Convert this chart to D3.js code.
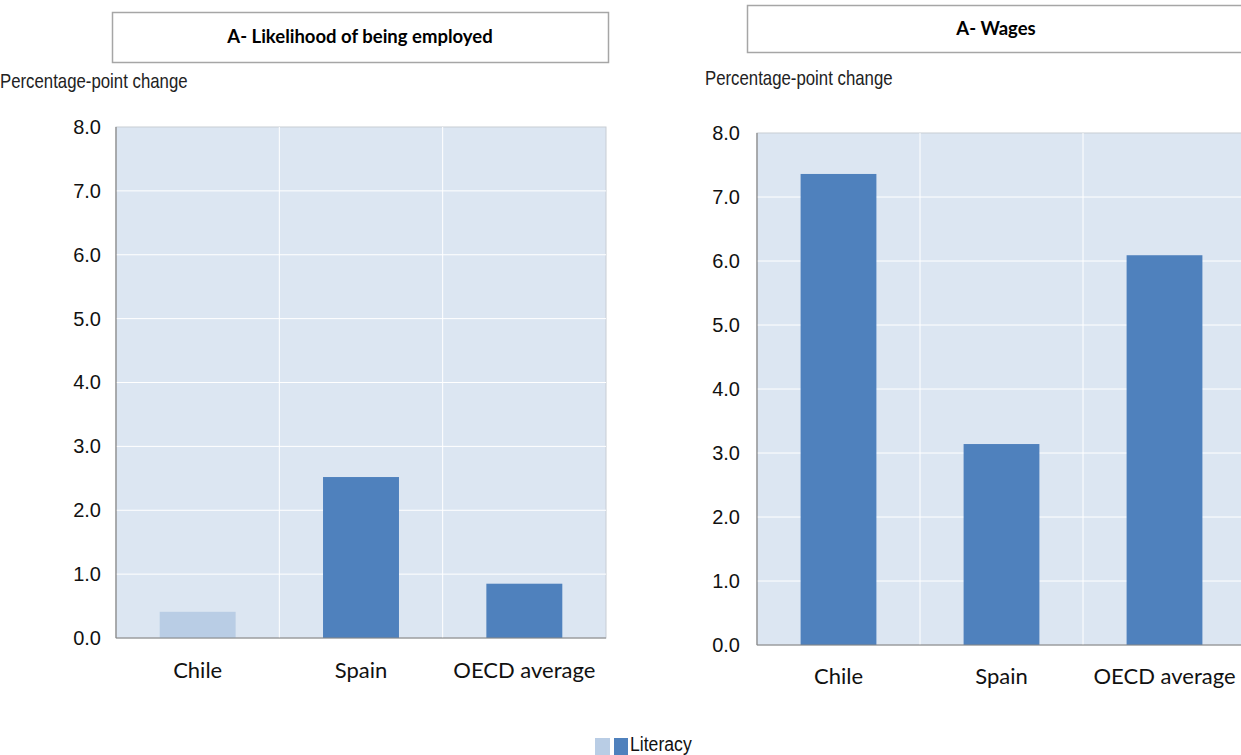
<!DOCTYPE html>
<html>
<head>
<meta charset="utf-8">
<script src="https://cdn.jsdelivr.net/npm/d3@7"></script>
<style>
  body { margin: 0; background: #fff; }
  svg { display: block; }
</style>
</head>
<body>
<svg id="chart" width="1241" height="755"></svg>
<script>
// ---- Data ----
const categories = ["Chile", "Spain", "OECD average"];
const employmentValues = [0.41, 2.52, 0.85];
const employmentSignificant = [false, true, true];
const wageValues = [7.36, 3.14, 6.09];
const wageSignificant = [true, true, true];
const yTicks = [0, 1, 2, 3, 4, 5, 6, 7, 8];
const panelTitles = ["A- Likelihood of being employed", "A- Wages"];
const yAxisLabel = "Percentage-point change";
const legendLabel = "Literacy";

// ---- Style ----
const DARK = "#4f81bd", LIGHT = "#b9cde5", BG = "#dce6f2";

const svg = d3.select("#chart");

const panels = [
  { title: panelTitles[0], values: employmentValues, sig: employmentSignificant,
    box: [112, 12, 496, 50], label: [0, 88],
    x0: 116, x1: 606, yTop: 127, yBot: 638, tickX: 101, catY: 679 },
  { title: panelTitles[1], values: wageValues, sig: wageSignificant,
    box: [747, 5, 498, 47], label: [705, 85],
    x0: 757, x1: 1246, yTop: 133, yBot: 645, tickX: 740, catY: 685 }
];

panels.forEach(p => {
  const g = svg.append("g");
  // title box
  g.append("rect").attr("x", p.box[0] + 0.5).attr("y", p.box[1] + 0.5)
    .attr("width", p.box[2]).attr("height", p.box[3])
    .attr("fill", "#fff").attr("stroke", "#a6a6a6").attr("stroke-width", 1.5);
  g.append("text").attr("x", p.box[0] + p.box[2] / 2)
    .attr("y", p.box[1] + p.box[3] / 2 + 6)
    .attr("text-anchor", "middle")
    .attr("font-family", "Lato, 'Open Sans', sans-serif")
    .attr("font-weight", "bold").attr("font-size", 18.5).attr("fill", "#000")
    .text(p.title);
  // axis label (condensed look)
  g.append("text")
    .attr("transform", `translate(${p.label[0]},${p.label[1]}) scale(0.84,1)`)
    .attr("font-family", "'Liberation Sans', Arial, sans-serif")
    .attr("font-size", 20).attr("fill", "#222")
    .text(yAxisLabel);

  const x = d3.scaleBand().domain(categories).range([p.x0, p.x1])
    .paddingInner(0.535).paddingOuter(0.2675);
  const y = d3.scaleLinear().domain([0, 8]).range([p.yBot, p.yTop]);
  const step = x.step();
  const gap = step * 0.535 / 2;

  // plot background
  g.append("rect").attr("x", p.x0).attr("y", p.yTop)
    .attr("width", p.x1 - p.x0).attr("height", p.yBot - p.yTop)
    .attr("fill", BG).attr("stroke", "#c8cdd4").attr("stroke-width", 1);

  // horizontal gridlines
  g.selectAll(".hg").data(yTicks.filter(t => t > 0 && t < 8)).enter().append("line")
    .attr("x1", p.x0).attr("x2", p.x1)
    .attr("y1", d => y(d)).attr("y2", d => y(d))
    .attr("stroke", "#fff").attr("stroke-width", 1);
  // vertical gridlines at category boundaries
  g.selectAll(".vg").data(categories.slice(1)).enter().append("line")
    .attr("x1", d => x(d) - gap).attr("x2", d => x(d) - gap)
    .attr("y1", p.yTop).attr("y2", p.yBot)
    .attr("stroke", "#fff").attr("stroke-width", 1);

  // bars
  g.selectAll(".bar").data(categories).enter().append("rect")
    .attr("x", d => x(d)).attr("width", x.bandwidth())
    .attr("y", (d, i) => y(p.values[i]))
    .attr("height", (d, i) => y(0) - y(p.values[i]))
    .attr("fill", (d, i) => p.sig[i] ? DARK : LIGHT);

  // axes lines
  g.append("line").attr("x1", p.x0).attr("x2", p.x0).attr("y1", p.yTop).attr("y2", p.yBot)
    .attr("stroke", "#868686").attr("stroke-width", 1.2);
  g.append("line").attr("x1", p.x0).attr("x2", p.x1).attr("y1", p.yBot).attr("y2", p.yBot)
    .attr("stroke", "#868686").attr("stroke-width", 1.2);

  // y tick labels via d3 axis
  const yAxis = d3.axisLeft(y).tickValues(yTicks).tickFormat(d3.format(".1f")).tickSize(0).tickPadding(0);
  const ya = g.append("g").attr("transform", `translate(${p.tickX},0)`).call(yAxis)
    .attr("font-family", "'Liberation Sans', Arial, sans-serif").attr("font-size", 20);
  ya.select(".domain").remove();
  ya.selectAll("text").attr("fill", "#111");

  // x category labels via d3 axis
  const xAxis = d3.axisBottom(x).tickSize(0).tickPadding(0);
  const xa = g.append("g").attr("transform", `translate(0,${p.catY - 17})`).call(xAxis)
    .attr("font-family", "Lato, 'Open Sans', sans-serif").attr("font-size", 22);
  xa.select(".domain").remove();
  xa.selectAll("text").attr("fill", "#111");
});

// legend
const lg = svg.append("g");
lg.append("rect").attr("x", 595).attr("y", 738).attr("width", 15).attr("height", 17).attr("fill", LIGHT);
lg.append("rect").attr("x", 614).attr("y", 738).attr("width", 14).attr("height", 17).attr("fill", DARK);
lg.append("text").attr("transform", "translate(630,751) scale(0.84,1)")
  .attr("font-family", "'Liberation Sans', Arial, sans-serif")
  .attr("font-size", 21).attr("fill", "#111").text(legendLabel);
</script>
</body>
</html>
